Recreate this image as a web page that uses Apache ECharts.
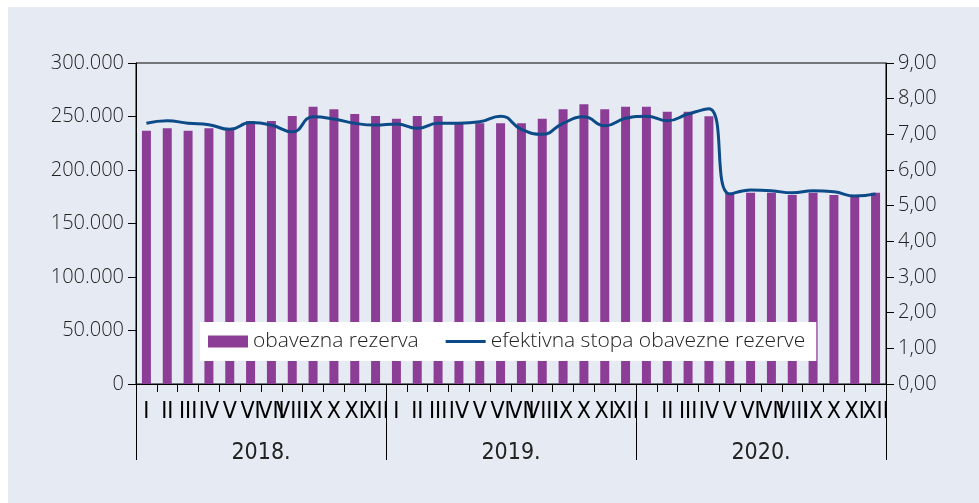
<!DOCTYPE html>
<html>
<head>
<meta charset="utf-8">
<script src="https://cdn.jsdelivr.net/npm/echarts@6/dist/echarts.min.js"></script>
<style>
  html, body { margin: 0; padding: 0; background: #fff; }
  #chart { width: 979px; height: 503px; }
</style>
</head>
<body>
<div id="chart"></div>
<script>
var monthNames = ['I', 'II', 'III', 'IV', 'V', 'VI', 'VII', 'VIII', 'IX', 'X', 'XI', 'XII']
var years = ['2018.', '2019.', '2020.']

// obavezna rezerva
var reserve = [236700, 239000, 236700, 239000, 238000, 245800, 245800, 250500, 259200, 256700, 252300, 250500,
  247900, 250500, 250500, 243600, 243600, 243600, 243600, 247900, 256700, 261400, 256700, 259200,
  259200, 254500, 254500, 250200, 178800, 178800, 178800, 176600, 178800, 176600, 176600, 178800]

// efektivna stopa obavezne rezerve
var rate = [7.31, 7.38, 7.31, 7.27, 7.14, 7.33, 7.26, 7.07, 7.49, 7.43, 7.31, 7.26,
  7.29, 7.17, 7.31, 7.31, 7.35, 7.51, 7.14, 7.00, 7.31, 7.49, 7.24, 7.45,
  7.51, 7.38, 7.57, 7.72, 5.33, 5.44, 5.42, 5.36, 5.42, 5.39, 5.27, 5.33]

// unique keys per month, e.g. "2018. I"
var categories = []
years.forEach(function (y) {
  monthNames.forEach(function (m) {
    categories.push(y + ' ' + m)
  })
})

var textColor = '#222'
var uiFont = '"Open Sans", sans-serif'
var narrowFont = '"Liberation Sans Narrow", "DejaVu Sans Condensed", sans-serif'

var chart = echarts.init(document.getElementById('chart'))

chart.setOption({
  backgroundColor: '#fff',
  animation: false,
  graphic: [{
    type: 'rect',
    z: -10,
    silent: true,
    shape: { x: 8, y: 7, width: 971, height: 496 },
    style: { fill: '#e6ebf3' }
  }],
  grid: {
    left: 136,
    right: 93,
    top: 63,
    bottom: 119,
    show: true,
    borderColor: '#000',
    borderWidth: 1
  },
  legend: {
    left: 200,
    top: 322,
    backgroundColor: '#fff',
    padding: [9, 11, 9, 8],
    itemWidth: 40,
    itemHeight: 12,
    itemGap: 27,
    textStyle: { fontFamily: uiFont, fontWeight: 300, fontSize: 21, color: textColor },
    data: [
      { name: 'obavezna rezerva', icon: 'rect' },
      { name: 'efektivna stopa obavezne rezerve', icon: 'path://M0,0H40V3H0Z' }
    ]
  },
  xAxis: [{
    type: 'category',
    data: categories,
    position: 'bottom',
    axisLine: { show: true, lineStyle: { color: '#000', width: 1 } },
    axisTick: { show: false },
    axisLabel: {
      interval: 0,
      margin: 17,
      fontFamily: narrowFont,
      fontSize: 23,
      color: '#000',
      formatter: function (v, i) {
        return monthNames[i % 12]
      }
    }
  }, {
    type: 'category',
    data: years,
    position: 'bottom',
    axisLine: { show: false },
    axisTick: { show: true, length: 76, lineStyle: { color: '#000' } },
    axisLabel: {
      margin: 58,
      fontFamily: narrowFont,
      fontSize: 23,
      color: textColor
    }
  }, {
    // month boundary ticks
    type: 'value',
    min: 0,
    max: categories.length,
    interval: 1,
    position: 'bottom',
    axisLine: { show: false },
    axisTick: { show: true, length: 8, lineStyle: { color: '#000' } },
    axisLabel: { show: false },
    splitLine: { show: false }
  }],
  yAxis: [{
    type: 'value',
    min: 0,
    max: 300000,
    interval: 50000,
    axisLine: { show: true, lineStyle: { color: '#000' } },
    axisTick: { show: true, length: 8, lineStyle: { color: '#000' } },
    splitLine: { show: false },
    axisLabel: {
      margin: 12,
      fontFamily: uiFont,
      fontWeight: 300,
      fontSize: 20,
      color: textColor,
      formatter: function (v) {
        return v === 0 ? '0' : (v / 1000) + '.000'
      }
    }
  }, {
    type: 'value',
    min: 0,
    max: 9,
    interval: 1,
    position: 'right',
    axisLine: { show: true, lineStyle: { color: '#000' } },
    axisTick: { show: true, length: 8, lineStyle: { color: '#000' } },
    splitLine: { show: false },
    axisLabel: {
      margin: 12,
      fontFamily: uiFont,
      fontWeight: 300,
      fontSize: 20,
      color: textColor,
      formatter: function (v) {
        return v.toFixed(2).replace('.', ',')
      }
    }
  }],
  series: [{
    name: 'obavezna rezerva',
    type: 'bar',
    data: reserve,
    barWidth: 9,
    itemStyle: { color: '#8c3e96' }
  }, {
    name: 'efektivna stopa obavezne rezerve',
    type: 'line',
    yAxisIndex: 1,
    data: rate,
    smooth: true,
    symbol: 'none',
    lineStyle: { color: '#0c4a88', width: 3 },
    itemStyle: { color: '#0c4a88' }
  }]
})
</script>
</body>
</html>
